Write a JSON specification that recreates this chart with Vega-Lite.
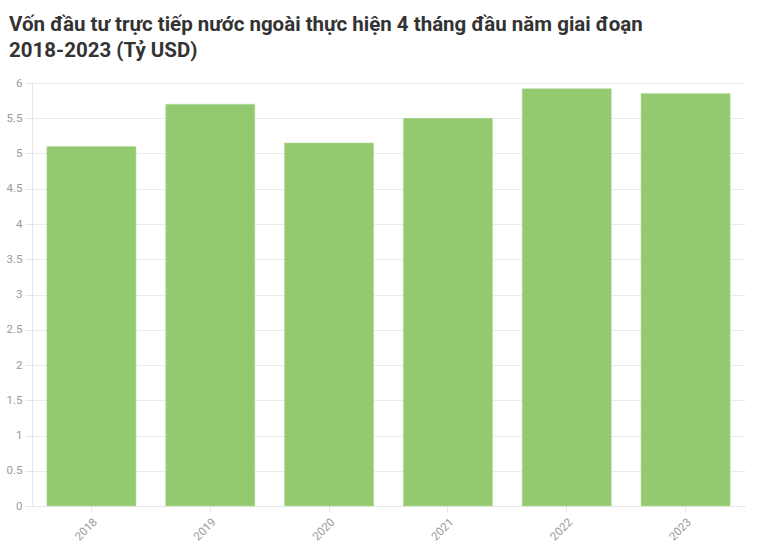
{
  "$schema": "https://vega.github.io/schema/vega-lite/v6.json",
  "width": 765,
  "height": 553,
  "autosize": {"type": "fit", "contains": "padding"},
  "padding": {"left": 6, "top": 14, "right": 20, "bottom": 10},
  "background": "white",
  "title": {
    "text": ["Vốn đầu tư trực tiếp nước ngoài thực hiện 4 tháng đầu năm giai đoạn", "2018-2023 (Tỷ USD)"],
    "anchor": "start",
    "font": "Roboto",
    "fontSize": 20.5,
    "fontWeight": "bold",
    "color": "#333333",
    "lineHeight": 26,
    "offset": 16,
    "dx": 3
  },
  "data": {
    "values": [
      {"year": "2018", "value": 5.1},
      {"year": "2019", "value": 5.7},
      {"year": "2020", "value": 5.15},
      {"year": "2021", "value": 5.5},
      {"year": "2022", "value": 5.92},
      {"year": "2023", "value": 5.85}
    ]
  },
  "mark": {"type": "bar", "color": "#93c96f", "stroke": "#b8dca0", "strokeWidth": 0.5},
  "encoding": {
    "x": {
      "field": "year",
      "type": "nominal",
      "scale": {"paddingInner": 0.25, "paddingOuter": 0.125},
      "axis": {
        "title": null,
        "labelAngle": -45,
        "labelColor": "#999999",
        "labelFont": "Roboto",
        "labelFontSize": 11.5,
        "domainColor": "#e6e6e6",
        "tickColor": "#e6e6e6",
        "tickSize": 6,
        "labelPadding": 4
      }
    },
    "y": {
      "field": "value",
      "type": "quantitative",
      "scale": {"domain": [0, 6], "nice": false},
      "axis": {
        "title": null,
        "values": [0, 0.5, 1, 1.5, 2, 2.5, 3, 3.5, 4, 4.5, 5, 5.5, 6],
        "format": "~g",
        "labelColor": "#999999",
        "labelFont": "Roboto",
        "labelFontSize": 11.5,
        "domainColor": "#e6e6e6",
        "tickColor": "#e6e6e6",
        "gridColor": "#ebebeb",
        "tickSize": 7,
        "labelPadding": 3
      }
    }
  },
  "config": {"view": {"stroke": null}}
}
